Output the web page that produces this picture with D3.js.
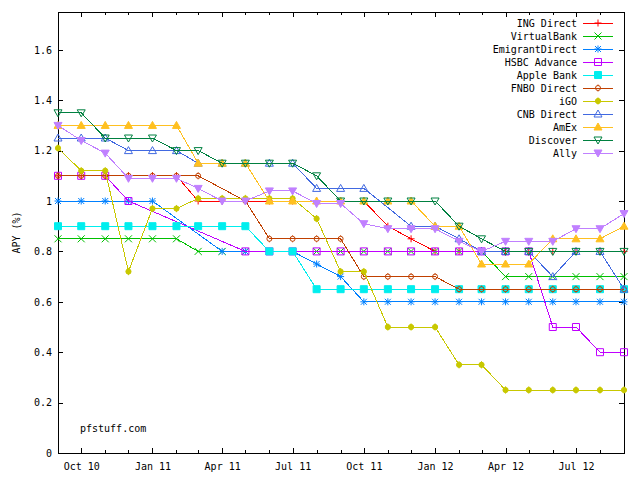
<!DOCTYPE html>
<html><head><meta charset="utf-8">
<script src="https://cdn.jsdelivr.net/npm/d3@7/dist/d3.min.js"></script>
<style>
body{margin:0;background:#fff}
svg{display:block}
text{font-family:"DejaVu Sans Mono",monospace;font-size:10px;fill:#000}
</style>
</head><body>
<svg id="chart" width="640" height="480"></svg>
<script>
// ---- data ----
const months = ["2010-09","2010-10","2010-11","2010-12","2011-01","2011-02","2011-03","2011-04","2011-05","2011-06","2011-07","2011-08","2011-09","2011-10","2011-11","2011-12","2012-01","2012-02","2012-03","2012-04","2012-05","2012-06","2012-07","2012-08","2012-09"];
const seriesNames = ["ING Direct","VirtualBank","EmigrantDirect","HSBC Advance","Apple Bank","FNBO Direct","iGO","CNB Direct","AmEx","Discover","Ally"];
const ingDirect      = [1.10,1.10,1.10,1.10,1.10,1.10,1.00,1.00,1.00,1.00,1.00,1.00,1.00,1.00,0.90,0.85,0.80,0.80,0.80,0.80,0.80,0.80,0.80,0.80,0.80];
const virtualBank    = [0.85,0.85,0.85,0.85,0.85,0.85,0.80,0.80,0.80,0.80,0.80,0.80,0.80,0.80,0.80,0.80,0.80,0.80,0.80,0.70,0.70,0.70,0.70,0.70,0.70];
const emigrantDirect = [1.00,1.00,1.00,1.00,1.00,null,null,0.80,0.80,0.80,0.80,0.75,0.70,0.60,0.60,0.60,0.60,0.60,0.60,0.60,0.60,0.60,0.60,0.60,0.60];
const hsbcAdvance    = [1.10,1.10,1.10,1.00,null,null,null,null,0.80,0.80,0.80,0.80,0.80,0.80,0.80,0.80,0.80,0.80,0.80,0.80,0.80,0.50,0.50,0.40,0.40];
const appleBank      = [0.90,0.90,0.90,0.90,0.90,0.90,0.90,0.90,0.90,0.80,0.80,0.65,0.65,0.65,0.65,0.65,0.65,0.65,0.65,0.65,0.65,0.65,0.65,0.65,0.65];
const fnboDirect     = [1.10,1.10,1.10,1.10,1.10,1.10,1.10,null,1.00,0.85,0.85,0.85,0.85,0.70,0.70,0.70,0.70,0.65,0.65,0.65,0.65,0.65,0.65,0.65,0.65];
const iGO            = [1.21,1.12,1.12,0.72,0.97,0.97,1.01,1.01,1.01,1.01,1.01,0.93,0.72,0.72,0.50,0.50,0.50,0.35,0.35,0.25,0.25,0.25,0.25,0.25,0.25];
const cnbDirect      = [1.25,1.25,1.25,1.20,1.20,1.20,1.15,1.15,1.15,1.15,1.15,1.05,1.05,1.05,null,0.90,0.90,0.85,0.80,0.80,0.80,0.70,0.80,0.80,0.65];
const amEx           = [1.30,1.30,1.30,1.30,1.30,1.30,1.15,1.15,1.15,1.00,1.00,1.00,1.00,1.00,1.00,1.00,0.90,0.90,0.75,0.75,0.75,0.85,0.85,0.85,0.90];
const discover       = [1.35,1.35,1.25,1.25,1.25,1.20,1.20,1.15,1.15,1.15,1.15,1.10,1.00,1.00,1.00,1.00,1.00,0.90,0.85,0.80,0.80,0.80,0.80,0.80,0.80];
const ally           = [1.30,1.24,1.19,1.09,1.09,1.09,1.05,1.00,1.00,1.04,1.04,0.99,0.99,0.91,0.89,0.89,0.89,0.84,0.80,0.84,0.84,0.84,0.89,0.89,0.95];
const yTickValues = [0,0.2,0.4,0.6,0.8,1.0,1.2,1.4,1.6];
const yTickLabels = ["0","0.2","0.4","0.6","0.8","1","1.2","1.4","1.6"];
const xMajorTicks = ["2010-10","2011-01","2011-04","2011-07","2011-10","2012-01","2012-04","2012-07"];
const xTickLabels = ["Oct 10","Jan 11","Apr 11","Jul 11","Oct 11","Jan 12","Apr 12","Jul 12"];
const xMinorTicks = ["2010-11","2010-12","2011-02","2011-03","2011-05","2011-06","2011-08","2011-09","2011-11","2011-12","2012-02","2012-03","2012-05","2012-06","2012-08"];

const colors  = ["#ff0000","#00c000","#0080ff","#c000ff","#00eeee","#c04000","#c8c800","#4169e1","#ffc020","#008040","#c080ff"];
const markers = ["plus","cross","star","square","fsquare","circle","fcircle","tri","ftri","itri","fitri"];
const allValues = [ingDirect,virtualBank,emigrantDirect,hsbcAdvance,appleBank,fnboDirect,iGO,cnbDirect,amEx,discover,ally];

// ---- layout ----
const L=58, R=624, T=12, B=453;
const parse = d3.timeParse("%Y-%m");
const svg = d3.select("#chart");
const x = d3.scaleTime().domain([parse("2010-09"), parse("2012-09")]).range([L,R]);
const y = d3.scaleLinear().domain([0,1.75]).range([B,T]);

// axes
const gx = svg.append("g").attr("transform",`translate(0,${B})`)
  .call(d3.axisBottom(x).tickValues(xMajorTicks.map(parse)).tickSize(-5).tickPadding(10)
    .tickFormat((d,i)=>xTickLabels[i]));
const gxm = svg.append("g").attr("transform",`translate(0,${B})`)
  .call(d3.axisBottom(x).tickValues(xMinorTicks.map(parse)).tickSize(-3).tickFormat(""));
const gxt = svg.append("g").attr("transform",`translate(0,${T})`)
  .call(d3.axisTop(x).tickValues(xMajorTicks.map(parse)).tickSize(-5).tickFormat(""));
const gxtm = svg.append("g").attr("transform",`translate(0,${T})`)
  .call(d3.axisTop(x).tickValues(xMinorTicks.map(parse)).tickSize(-3).tickFormat(""));
const gy = svg.append("g").attr("transform",`translate(${L},0)`)
  .call(d3.axisLeft(y).tickValues(yTickValues).tickSize(-5).tickPadding(6)
    .tickFormat((d,i)=>yTickLabels[i]));
const gyr = svg.append("g").attr("transform",`translate(${R},0)`)
  .call(d3.axisRight(y).tickValues(yTickValues).tickSize(-5).tickFormat(""));
[gx,gxm,gxt,gxtm,gy,gyr].forEach(g=>{
  g.select(".domain").remove();
  g.selectAll("line").attr("stroke","#000").attr("shape-rendering","crispEdges");
  g.selectAll("text").attr("font-family",'"DejaVu Sans Mono",monospace').attr("font-size",10).attr("fill","#000");
});
svg.append("rect").attr("x",L).attr("y",T).attr("width",R-L).attr("height",B-T)
  .attr("fill","none").attr("stroke","#000").attr("shape-rendering","crispEdges");

svg.append("text").attr("transform",`translate(20,${(T+B)/2}) rotate(-90)`)
  .attr("text-anchor","middle").text("APY (%)");
svg.append("text").attr("x",80).attr("y",432).text("pfstuff.com");

// marker path generator (relative shapes)
function markerPath(type){
  const s=3.5;
  switch(type){
    case "plus": return `M${-s},0H${s}M0,${-s}V${s}`;
    case "cross": return `M${-s},${-s}L${s},${s}M${-s},${s}L${s},${-s}`;
    case "star": return `M${-s},0H${s}M0,${-s}V${s}M${-s+0.5},${-s+0.5}L${s-0.5},${s-0.5}M${-s+0.5},${s-0.5}L${s-0.5},${-s+0.5}`;
    case "square": case "fsquare": return `M${-s},${-s}H${s}V${s}H${-s}Z`;
    case "circle": return `M-2.5,0A2.5,2.5 0 1,0 2.5,0A2.5,2.5 0 1,0 -2.5,0Z M0,-3.5V-2.5M0,2.5V3.5`;
    case "fcircle": return `M-2.6,0A2.6,2.6 0 1,0 2.6,0A2.6,2.6 0 1,0 -2.6,0Z M0,-3.6V3.6`;
    case "tri": case "ftri": return `M0,${-s-0.5}L${s+0.5},${s-0.5}H${-s-0.5}Z`;
    case "itri": case "fitri": return `M0,${s+0.5}L${s+0.5},${-s+0.5}H${-s-0.5}Z`;
  }
}
function styleMarker(sel,i){
  const t=markers[i], filled = t.startsWith("f");
  sel.attr("d",markerPath(t))
    .attr("fill",filled?colors[i]:"none")
    .attr("stroke",colors[i]).attr("stroke-width",1);
}

const line = d3.line().x(d=>x(d.date)).y(d=>y(d.v));
const plot = svg.append("g");
seriesNames.forEach((name,i)=>{
  const pts = allValues[i].map((v,j)=>({date:parse(months[j]),v})).filter(d=>d.v!==null);
  const g = plot.append("g");
  g.append("path").datum(pts).attr("d",line).attr("fill","none")
    .attr("stroke",colors[i]).attr("stroke-width",1).attr("shape-rendering","crispEdges");
  g.selectAll("path.m").data(pts).enter().append("path").attr("class","m")
    .attr("transform",d=>`translate(${x(d.date)},${y(d.v)})`)
    .call(styleMarker,i);
});

// legend
const leg = svg.append("g");
seriesNames.forEach((name,i)=>{
  const yy = 23 + i*13;
  leg.append("text").attr("x",577).attr("y",yy).attr("dy","0.35em").attr("text-anchor","end").text(name);
  leg.append("line").attr("x1",583).attr("x2",613).attr("y1",yy).attr("y2",yy)
    .attr("stroke",colors[i]).attr("stroke-width",1).attr("shape-rendering","crispEdges");
  leg.append("path").attr("transform",`translate(598,${yy})`).call(styleMarker,i);
});
</script>
</body></html>
